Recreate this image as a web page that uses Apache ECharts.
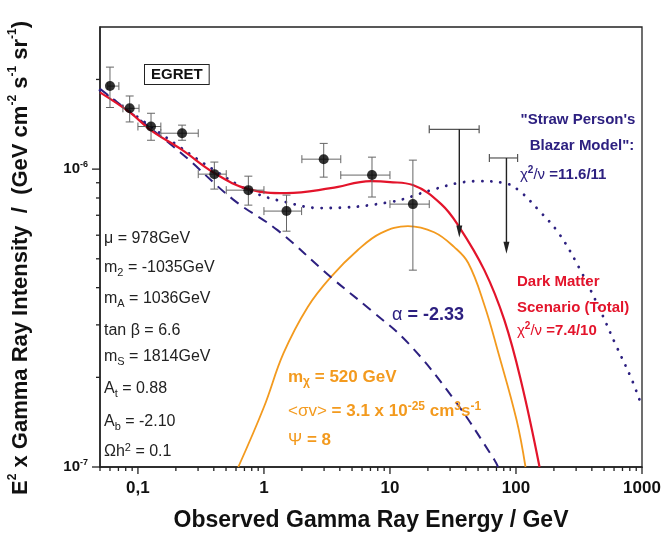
<!DOCTYPE html>
<html>
<head>
<meta charset="utf-8">
<script src="https://cdn.jsdelivr.net/npm/echarts@6.0.0/dist/echarts.min.js"></script>
<style>
html, body { margin: 0; padding: 0; background: #fff; }
#chart { width: 662px; height: 535px; }
</style>
</head>
<body>
<div id="chart"></div>
<script>
// EGRET data points (GeV, GeV cm-2 s-1 sr-1)
const egretE      = [0.06, 0.086, 0.127, 0.224, 0.404, 0.752, 1.51, 2.98, 7.2, 15.2]
const egretFlux   = [1.90e-6, 1.60e-6, 1.39e-6, 1.32e-6, 0.962e-6, 0.850e-6, 0.723e-6, 1.08e-6, 0.955e-6, 0.763e-6]
const egretELow   = [0.0577, 0.076, 0.1, 0.152, 0.301, 0.502, 1.0, 2.0, 4.07, 10]
const egretEHigh  = [0.0706, 0.102, 0.152, 0.301, 0.502, 1.0, 1.99, 4.07, 10, 20.5]
const egretFLow   = [1.61e-6, 1.44e-6, 1.25e-6, 1.25e-6, 0.857e-6, 0.757e-6, 0.619e-6, 0.94e-6, 0.806e-6, 0.458e-6]
const egretFHigh  = [2.20e-6, 1.76e-6, 1.54e-6, 1.405e-6, 1.056e-6, 0.947e-6, 0.818e-6, 1.22e-6, 1.097e-6, 1.072e-6]

// upper limits
const limitE     = [35.5, 84]
const limitELow  = [20.5, 61.5]
const limitEHigh = [51, 103]
const limitFlux  = [1.36e-6, 1.09e-6]
const limitArrow = [0.59e-6, 0.52e-6]

// model curves [E, E^2 I]
const totalCurve = [[0.05, 1.81e-6], [0.0863, 1.55e-6], [0.127, 1.35e-6], [0.224, 1.16e-6], [0.404, 0.97e-6],
    [0.752, 0.857e-6], [1.51, 0.831e-6], [3.39, 0.863e-6], [7.06, 0.911e-6], [10, 0.905e-6], [15.2, 0.884e-6],
    [25.5, 0.763e-6], [35.5, 0.639e-6], [56.1, 0.458e-6], [80.9, 0.311e-6], [110.7, 0.191e-6], [153.8, 1e-7]]
const signalCurve = [[0.626, 1e-7], [1.0, 1.59e-7], [1.43, 2.41e-7], [2.22, 3.44e-7], [3.39, 4.34e-7], [5.56, 5.35e-7],
    [8.47, 6.10e-7], [13.9, 6.44e-7], [22.4, 6.14e-7], [32.4, 5.47e-7], [41.8, 4.84e-7], [56.1, 3.5e-7],
    [72.6, 2.41e-7], [101, 1.44e-7], [119, 1e-7]]
const backgroundCurve = [[0.05, 1.86e-6], [0.216, 1.14e-6], [0.571, 0.79e-6], [1.28, 0.624e-6], [3.39, 0.434e-6],
    [7.06, 0.336e-6], [13.9, 0.261e-6], [32.4, 0.168e-6], [67.5, 0.1056e-6], [72, 1e-7]]
const blazarCurve = [[0.05, 1.84e-6], [0.0719, 1.65e-6], [0.216, 1.185e-6], [0.404, 0.992e-6], [0.78, 0.844e-6],
    [1.48, 0.775e-6], [2.82, 0.74e-6], [10, 0.775e-6], [21.2, 0.85e-6], [34.8, 0.898e-6], [50.2, 0.911e-6],
    [80.9, 0.898e-6], [104.7, 0.85e-6], [151, 0.729e-6], [218, 0.61e-6], [315, 0.469e-6], [454, 0.344e-6],
    [609, 0.261e-6], [832, 0.196e-6], [1000, 0.159e-6]]

// axes
const xMin = 0.05, xMax = 1000, yMin = 1e-7, yMax = 3e-6
const xMajorTicks = [0.1, 1, 10, 100, 1000]
const yMajorTicks = [1e-7, 1e-6]
const xMinorTicks = []
;[0.01, 0.1, 1, 10, 100].forEach(d => {
    for (let k = 2; k <= 9; k++) { if (k * d >= xMin && k * d < xMax) xMinorTicks.push(k * d) }
})
const yMinorTicks = []
;[1e-7, 1e-6].forEach(d => {
    for (let k = 2; k <= 9; k++) { if (k * d < yMax) yMinorTicks.push(k * d) }
})

const FONT = 'Arial, "Liberation Sans", Helvetica, sans-serif'
const NAVY = '#2d2080'
const RED = '#e3142b'
const ORANGE = '#f39a1e'

const myChart = echarts.init(document.getElementById('chart'))

function seg (x1, y1, x2, y2, color, w) {
    return { type: 'line', shape: { x1, y1, x2, y2 }, style: { stroke: color, lineWidth: w } }
}

function renderErrorBar (params, api) {
    const c = api.coord([api.value(0), api.value(1)])
    const lo = api.coord([api.value(2), api.value(1)])
    const hi = api.coord([api.value(3), api.value(1)])
    const bot = api.coord([api.value(0), api.value(4)])
    const top = api.coord([api.value(0), api.value(5)])
    const cap = 4, col = '#666'
    return {
        type: 'group',
        children: [
            seg(lo[0], c[1], hi[0], c[1], col, 1),
            seg(lo[0], c[1] - cap, lo[0], c[1] + cap, col, 1),
            seg(hi[0], c[1] - cap, hi[0], c[1] + cap, col, 1),
            seg(c[0], top[1], c[0], bot[1], col, 1),
            seg(c[0] - cap, top[1], c[0] + cap, top[1], col, 1),
            seg(c[0] - cap, bot[1], c[0] + cap, bot[1], col, 1)
        ]
    }
}

function renderLimit (params, api) {
    const c = api.coord([api.value(0), api.value(1)])
    const lo = api.coord([api.value(2), api.value(1)])
    const hi = api.coord([api.value(3), api.value(1)])
    const end = api.coord([api.value(0), api.value(4)])
    const cap = 4, col = '#222'
    return {
        type: 'group',
        children: [
            seg(lo[0], c[1], hi[0], c[1], '#555', 1.2),
            seg(lo[0], c[1] - cap, lo[0], c[1] + cap, '#555', 1.2),
            seg(hi[0], c[1] - cap, hi[0], c[1] + cap, '#555', 1.2),
            seg(c[0], c[1], c[0], end[1] - 8, col, 1.4),
            {
                type: 'polygon',
                shape: { points: [[c[0] - 3, end[1] - 12], [c[0] + 3, end[1] - 12], [c[0], end[1]]] },
                style: { fill: col }
            }
        ]
    }
}

function renderXTick (params, api) {
    const p = api.coord([api.value(0), yMin])
    return seg(p[0], p[1], p[0], p[1] + api.value(1), '#222', 1.3)
}

function renderYTick (params, api) {
    const p = api.coord([xMin, api.value(0)])
    return seg(p[0], p[1], p[0] - api.value(1), p[1], '#222', 1.3)
}

const supRich = {
    b: { fontSize: 15, fontWeight: 'bold', fontFamily: FONT, color: '#111', lineHeight: 18 },
    s: { fontSize: 9, fontWeight: 'bold', fontFamily: FONT, color: '#111', verticalAlign: 'top', lineHeight: 9 }
}

// text helper for annotations
function note (x, y, text, color, size, weight, align) {
    const sub = Math.round(size * 0.68)
    return {
        type: 'text',
        x: x,
        y: y,
        z: 100,
        style: {
            text: text,
            fill: color,
            font: weight + ' ' + size + 'px ' + FONT,
            align: align || 'left',
            verticalAlign: 'middle',
            rich: {
                n: { fontSize: size, fontWeight: weight, fontFamily: FONT, fill: color, lineHeight: size + 4 },
                r: { fontSize: size, fontWeight: 'normal', fontFamily: FONT, fill: color, lineHeight: size + 4 },
                d: { fontSize: sub, fontWeight: weight, fontFamily: FONT, fill: color, verticalAlign: 'bottom', lineHeight: sub },
                u: { fontSize: sub, fontWeight: weight, fontFamily: FONT, fill: color, verticalAlign: 'top', lineHeight: sub }
            }
        }
    }
}

const PAR = '#222'

myChart.setOption({
    backgroundColor: '#fff',
    animation: false,
    grid: {
        left: 100, right: 20, top: 27, bottom: 68,
        containLabel: false,
        outerBoundsMode: 'none',
        show: true, borderColor: '#222', borderWidth: 1.3
    },
    xAxis: {
        type: 'log',
        logBase: 10,
        min: xMin,
        max: xMax,
        name: 'Observed Gamma Ray Energy / GeV',
        nameLocation: 'middle',
        nameGap: 42,
        nameTextStyle: { fontSize: 23, fontWeight: 'bold', fontFamily: FONT, color: '#111' },
        axisLine: { lineStyle: { color: '#222', width: 1.5 } },
        axisTick: { show: false },
        splitLine: { show: false },
        axisLabel: {
            showMinLabel: false,
            margin: 13,
            fontSize: 17,
            fontWeight: 'bold',
            fontFamily: FONT,
            color: '#111',
            formatter: v => (v < 0.5 ? '0,1' : String(Math.round(v)))
        }
    },
    yAxis: {
        type: 'log',
        logBase: 10,
        min: yMin,
        max: yMax,
        name: '{t|E}{u|2}{t| x Gamma Ray Intensity  /  (GeV cm}{u|-2}{t| s}{u|-1}{t| sr}{u|-1}{t|)}',
        nameLocation: 'middle',
        nameRotate: 90,
        nameGap: 66,
        nameTextStyle: {
            padding: [0, 22, 0, 0],
            rich: {
                t: { fontSize: 22, fontWeight: 'bold', fontFamily: FONT, color: '#111', lineHeight: 27 },
                u: { fontSize: 12, fontWeight: 'bold', fontFamily: FONT, color: '#111', verticalAlign: 'top', lineHeight: 12 }
            }
        },
        axisLine: { lineStyle: { color: '#222', width: 1.5 } },
        axisTick: { show: false },
        splitLine: { show: false },
        axisLabel: {
            showMaxLabel: false,
            margin: 12,
            formatter: v => '{b|10}{s|' + Math.round(Math.log10(v)) + '}',
            rich: supRich
        }
    },
    series: [
        {
            type: 'custom',
            clip: false,
            silent: true,
            renderItem: renderXTick,
            data: xMajorTicks.map(v => [v, 7]).concat(xMinorTicks.map(v => [v, 4])),
            encode: { x: 0 },
            z: 1
        },
        {
            type: 'custom',
            clip: false,
            silent: true,
            renderItem: renderYTick,
            data: yMajorTicks.map(v => [v, 8]).concat(yMinorTicks.map(v => [v, 4])),
            encode: { y: 0 },
            z: 1
        },
        {
            type: 'line',
            data: signalCurve,
            smooth: 0.4,
            showSymbol: false,
            lineStyle: { color: ORANGE, width: 1.8 },
            z: 2
        },
        {
            type: 'line',
            data: backgroundCurve,
            smooth: 0.4,
            showSymbol: false,
            lineStyle: { color: NAVY, width: 2, type: [10, 7] },
            z: 2
        },
        {
            type: 'line',
            data: blazarCurve,
            smooth: 0.4,
            showSymbol: false,
            lineStyle: { color: NAVY, width: 2.8, type: [0.1, 9], cap: 'round' },
            z: 3
        },
        {
            type: 'line',
            data: totalCurve,
            smooth: 0.4,
            showSymbol: false,
            lineStyle: { color: RED, width: 2.2 },
            z: 4
        },
        {
            type: 'custom',
            renderItem: renderErrorBar,
            data: egretE.map((e, i) => [e, egretFlux[i], egretELow[i], egretEHigh[i], egretFLow[i], egretFHigh[i]]),
            encode: { x: 0, y: 1 },
            z: 5
        },
        {
            type: 'custom',
            renderItem: renderLimit,
            data: limitE.map((e, i) => [e, limitFlux[i], limitELow[i], limitEHigh[i], limitArrow[i]]),
            encode: { x: 0, y: 1 },
            z: 5
        },
        {
            type: 'scatter',
            data: egretE.map((e, i) => [e, egretFlux[i]]),
            symbol: 'circle',
            symbolSize: 10,
            itemStyle: { color: '#000' },
            z: 6
        }
    ],
    graphic: [
        {
            type: 'text',
            x: 145,
            y: 65,
            z: 100,
            style: {
                text: 'EGRET',
                font: 'bold 15px ' + FONT,
                fill: '#111',
                padding: [2, 6, 2, 6],
                borderColor: '#222',
                borderWidth: 1,
                backgroundColor: '#fff'
            }
        },
        note(104, 239, '{r|μ = 978GeV}', PAR, 16, 'normal'),
        note(104, 268, '{r|m}{d|2}{r| = -1035GeV}', PAR, 16, 'normal'),
        note(104, 299, '{r|m}{d|A}{r| = 1036GeV}', PAR, 16, 'normal'),
        note(104, 331, '{r|tan β = 6.6}', PAR, 16, 'normal'),
        note(104, 357, '{r|m}{d|S}{r| = 1814GeV}', PAR, 16, 'normal'),
        note(104, 389, '{r|A}{d|t}{r| = 0.88}', PAR, 16, 'normal'),
        note(104, 422, '{r|A}{d|b}{r| = -2.10}', PAR, 16, 'normal'),
        note(104, 452, '{r|Ωh}{u|2}{r| = 0.1}', PAR, 16, 'normal'),
        note(288, 377, '{n|m}{d|χ}{n| = 520 GeV}', ORANGE, 17, 'bold'),
        note(288, 411, '{r|<σv>}{n| = 3.1 x 10}{u|-25}{n| cm}{u|3}{n|s}{u|-1}', ORANGE, 17, 'bold'),
        note(288, 440, '{r|Ψ}{n| = 8}', ORANGE, 17, 'bold'),
        note(392, 315, '{r|α}{n| = -2.33}', NAVY, 18, 'bold'),
        note(517, 282, '{n|Dark Matter}', RED, 15, 'bold'),
        note(517, 308, '{n|Scenario (Total)}', RED, 15, 'bold'),
        note(517, 331, '{r|χ}{u|2}{r|/ν}{n| =7.4/10}', RED, 15, 'bold'),
        note(578, 120, '{n|"Straw Person\'s}', NAVY, 15, 'bold', 'center'),
        note(582, 146, '{n|Blazar Model":}', NAVY, 15, 'bold', 'center'),
        note(520, 175, '{r|χ}{u|2}{r|/ν}{n| =11.6/11}', NAVY, 15, 'bold')
    ]
})
</script>
</body>
</html>
